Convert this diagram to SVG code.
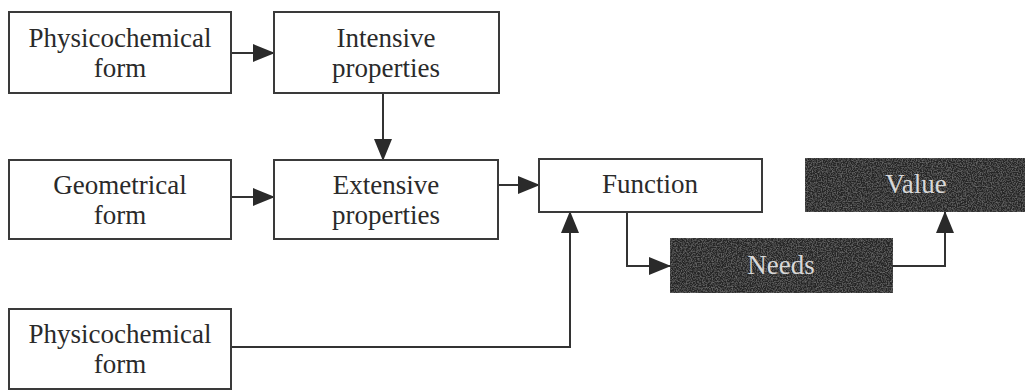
<svg xmlns="http://www.w3.org/2000/svg" width="1025" height="390" viewBox="0 0 1025 390">
  <style>
    .box { fill: #ffffff; stroke: #3a3a3a; stroke-width: 2; }
    .dark { fill: #262626; stroke: #333333; stroke-width: 2; }
    .lbl { font-family: "Liberation Serif", "Times New Roman", serif; font-size: 27px; fill: #2a2a2a; text-anchor: middle; }
    .lblw { font-family: "Liberation Serif", "Times New Roman", serif; font-size: 27px; fill: #d8d8d8; text-anchor: middle; }
    .conn { fill: none; stroke: #333333; stroke-width: 2; marker-end: url(#arr); }
  </style>
  <defs>
    <marker id="arr" markerUnits="userSpaceOnUse" markerWidth="22" markerHeight="18" viewBox="0 0 22 18" refX="21" refY="9" orient="auto">
      <path d="M0,0 L22,9 L0,18 Z" fill="#2a2a2a"/>
    </marker>
    <filter id="grain" x="0" y="0" width="100%" height="100%">
      <feTurbulence type="fractalNoise" baseFrequency="0.8" numOctaves="2" seed="3" result="n"/>
      <feColorMatrix in="n" type="matrix" values="0 0 0 0 0.6  0 0 0 0 0.6  0 0 0 0 0.6  0 0 0 0.5 -0.2" result="g"/>
      <feComposite in="g" in2="SourceGraphic" operator="in" result="gc"/>
      <feMerge><feMergeNode in="SourceGraphic"/><feMergeNode in="gc"/></feMerge>
    </filter>
  </defs>
  <rect width="1025" height="390" fill="#ffffff"/>

  <g id="connectors">
    <line class="conn" x1="231" y1="53" x2="274" y2="53"/>
    <line class="conn" x1="383" y1="93" x2="383" y2="160"/>
    <line class="conn" x1="231" y1="197" x2="274" y2="197"/>
    <line class="conn" x1="498" y1="185" x2="539" y2="185"/>
    <polyline class="conn" points="231,347 570,347 570,212"/>
    <polyline class="conn" points="627,212 627,266 670,266"/>
    <polyline class="conn" points="893,266 945,266 945,212"/>
  </g>

  <g id="physicochemical-form-1">
    <rect class="box" x="9" y="12" width="222" height="81"/>
    <text class="lbl" x="120" y="47">Physicochemical</text>
    <text class="lbl" x="120" y="77">form</text>
  </g>
  <g id="intensive-properties">
    <rect class="box" x="274" y="12" width="225" height="81"/>
    <text class="lbl" x="386" y="47">Intensive</text>
    <text class="lbl" x="386" y="77">properties</text>
  </g>
  <g id="geometrical-form">
    <rect class="box" x="9" y="160" width="222" height="79"/>
    <text class="lbl" x="120" y="194">Geometrical</text>
    <text class="lbl" x="120" y="224">form</text>
  </g>
  <g id="extensive-properties">
    <rect class="box" x="274" y="160" width="224" height="79"/>
    <text class="lbl" x="386" y="194">Extensive</text>
    <text class="lbl" x="386" y="224">properties</text>
  </g>
  <g id="physicochemical-form-2">
    <rect class="box" x="9" y="309" width="222" height="80"/>
    <text class="lbl" x="120" y="343">Physicochemical</text>
    <text class="lbl" x="120" y="373">form</text>
  </g>
  <g id="function">
    <rect class="box" x="539" y="159" width="223" height="53"/>
    <text class="lbl" x="650" y="193">Function</text>
  </g>
  <g id="needs">
    <rect class="dark" x="670" y="238" width="223" height="55" filter="url(#grain)"/>
    <text class="lblw" x="781" y="274">Needs</text>
  </g>
  <g id="value">
    <rect class="dark" x="805" y="158" width="222" height="54" filter="url(#grain)"/>
    <text class="lblw" x="916" y="193">Value</text>
  </g>
</svg>
